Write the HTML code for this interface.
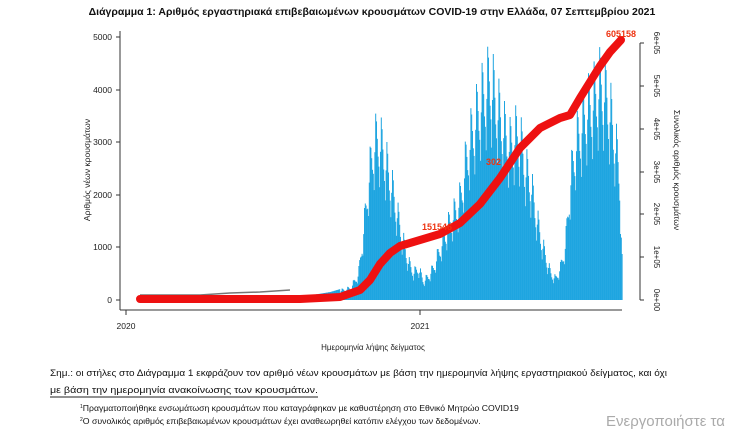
<!DOCTYPE html>
<html><head><meta charset="utf-8"><style>
body{margin:0;background:#fff;width:745px;height:432px;overflow:hidden;font-family:"Liberation Sans",sans-serif}
</style></head><body>
<svg id="s" width="745" height="432" xmlns="http://www.w3.org/2000/svg" font-family="Liberation Sans, sans-serif">
<text x="372" y="15" text-anchor="middle" font-size="10.5" font-weight="bold" fill="#111">Διάγραμμα 1: Αριθμός εργαστηριακά επιβεβαιωμένων κρουσμάτων COVID-19 στην Ελλάδα, 07 Σεπτεμβρίου 2021</text>
<g id="bars" fill="#1ea5e0"></g>
<polyline points="140,295 200,295 230,293 260,292 290,290" fill="none" stroke="#777" stroke-width="1.5"/>
<g stroke="#333" stroke-width="1" fill="none">
<line x1="120" y1="31" x2="120" y2="310"/>
<line x1="120" y1="310" x2="622" y2="310"/>
<line x1="116" y1="37" x2="120" y2="37"/><line x1="116" y1="90" x2="120" y2="90"/><line x1="116" y1="142" x2="120" y2="142"/><line x1="116" y1="195" x2="120" y2="195"/><line x1="116" y1="247" x2="120" y2="247"/><line x1="116" y1="300" x2="120" y2="300"/>
<line x1="126" y1="310" x2="126" y2="315"/><line x1="420" y1="310" x2="420" y2="315"/>
<line x1="640" y1="43" x2="640" y2="300"/>
<line x1="640" y1="43" x2="644" y2="43"/><line x1="640" y1="86" x2="644" y2="86"/><line x1="640" y1="129" x2="644" y2="129"/><line x1="640" y1="172" x2="644" y2="172"/><line x1="640" y1="214" x2="644" y2="214"/><line x1="640" y1="257" x2="644" y2="257"/><line x1="640" y1="300" x2="644" y2="300"/>
</g>
<g font-size="8.5" fill="#222" text-anchor="end">
<text x="112" y="40">5000</text><text x="112" y="93">4000</text><text x="112" y="145">3000</text><text x="112" y="198">2000</text><text x="112" y="250">1000</text><text x="112" y="303">0</text>
</g>
<g font-size="8.5" fill="#222" text-anchor="middle">
<text x="126" y="329">2020</text><text x="420" y="329">2021</text>
<text x="373" y="350" font-size="8">Ημερομηνία λήψης δείγματος</text>
</g>
<text transform="translate(90,170) rotate(-90)" font-size="8.5" fill="#222" text-anchor="middle">Αριθμός νέων κρουσμάτων</text>
<g font-size="8" fill="#222" text-anchor="middle">
<text transform="translate(654,43) rotate(90)">6e+05</text>
<text transform="translate(654,86) rotate(90)">5e+05</text>
<text transform="translate(654,129) rotate(90)">4e+05</text>
<text transform="translate(654,172) rotate(90)">3e+05</text>
<text transform="translate(654,214) rotate(90)">2e+05</text>
<text transform="translate(654,257) rotate(90)">1e+05</text>
<text transform="translate(654,300) rotate(90)">0e+00</text>
</g>
<text transform="translate(674,170) rotate(90)" font-size="8.5" fill="#222" text-anchor="middle">Συνολικός αριθμός κρουσμάτων</text>
<polyline fill="none" stroke="#ee1111" stroke-width="8" stroke-linecap="round" stroke-linejoin="round" points="140,299 300,299 340,297 360,290 370,280 380,264 390,253 400,246 420,240 440,234 460,223 480,204 500,178 520,148 540,128 560,118 570,115 580,98 590,82 600,66 610,52 621,40"/>
<text x="422" y="230" font-size="9" font-weight="bold" fill="#e31">151546</text>
<text x="486" y="165" font-size="9" font-weight="bold" fill="#e31">302</text>
<text x="606" y="37" font-size="9" font-weight="bold" fill="#e31">605158</text>
<g font-size="9.6" fill="#111">
<text x="50" y="376" textLength="617" lengthAdjust="spacingAndGlyphs">Σημ.: οι στήλες στο Διάγραμμα 1 εκφράζουν τον αριθμό νέων κρουσμάτων με βάση την ημερομηνία λήψης εργαστηριακού δείγματος, και όχι</text>
<text x="50" y="393" textLength="268" lengthAdjust="spacingAndGlyphs">με βάση την ημερομηνία ανακοίνωσης των κρουσμάτων.</text>
</g>
<line x1="50" y1="397" x2="318" y2="397" stroke="#222" stroke-width="1"/>
<g font-size="8" fill="#111">
<text x="80" y="411"><tspan font-size="5" dy="-3">1</tspan><tspan dy="3" textLength="436" lengthAdjust="spacingAndGlyphs">Πραγματοποιήθηκε ενσωμάτωση κρουσμάτων που καταγράφηκαν με καθυστέρηση στο Εθνικό Μητρώο COVID19</tspan></text>
<text x="80" y="424"><tspan font-size="5" dy="-3">2</tspan><tspan dy="3" textLength="398" lengthAdjust="spacingAndGlyphs">Ο συνολικός αριθμός επιβεβαιωμένων κρουσμάτων έχει αναθεωρηθεί κατόπιν ελέγχου των δεδομένων.</tspan></text>
</g>
<text x="606" y="426" font-size="15" fill="#aaa">Ενεργοποιήστε τα</text>
</svg>
<script>
(function(){
var env=[[140,298],[300,297],[330,292],[350,286],[358,270],[363,220],[368,160],[373,118],[378,108],[383,125],[388,150],[393,175],[398,205],[403,232],[408,255],[413,268],[418,262],[423,278],[428,272],[433,262],[438,245],[443,228],[448,212],[455,195],[460,180],[465,140],[470,110],[475,88],[480,68],[485,52],[490,40],[495,65],[500,85],[505,105],[510,118],[515,105],[520,112],[525,145],[530,160],[535,195],[540,225],[545,248],[550,268],[555,275],[560,262],[565,235],[570,160],[575,118],[580,98],[585,78],[590,70],[595,58],[600,45],[605,55],[610,80],[615,115],[619,150],[622,270]];
function envTop(x){for(var i=0;i<env.length-1;i++){var a=env[i],b=env[i+1];if(x>=a[0]&&x<=b[0]){return a[1]+(b[1]-a[1])*(x-a[0])/(b[0]-a[0]);}}return 300;}
var g=document.getElementById('bars');var NS='http://www.w3.org/2000/svg';var n=0;
for(var x=140;x<=622;x+=0.8){var t=envTop(x);var d=300-t;var k=n%7;n++;var f=[1,0.95,0.85,0.75,0.7,0.6,0.8][k];if(x<340)f=1;var y=300-d*f;
var r=document.createElementNS(NS,'rect');r.setAttribute('x',x.toFixed(1));r.setAttribute('y',y.toFixed(1));r.setAttribute('width','1');r.setAttribute('height',(300-y).toFixed(1));g.appendChild(r);}
})();
</script>
</body></html>
